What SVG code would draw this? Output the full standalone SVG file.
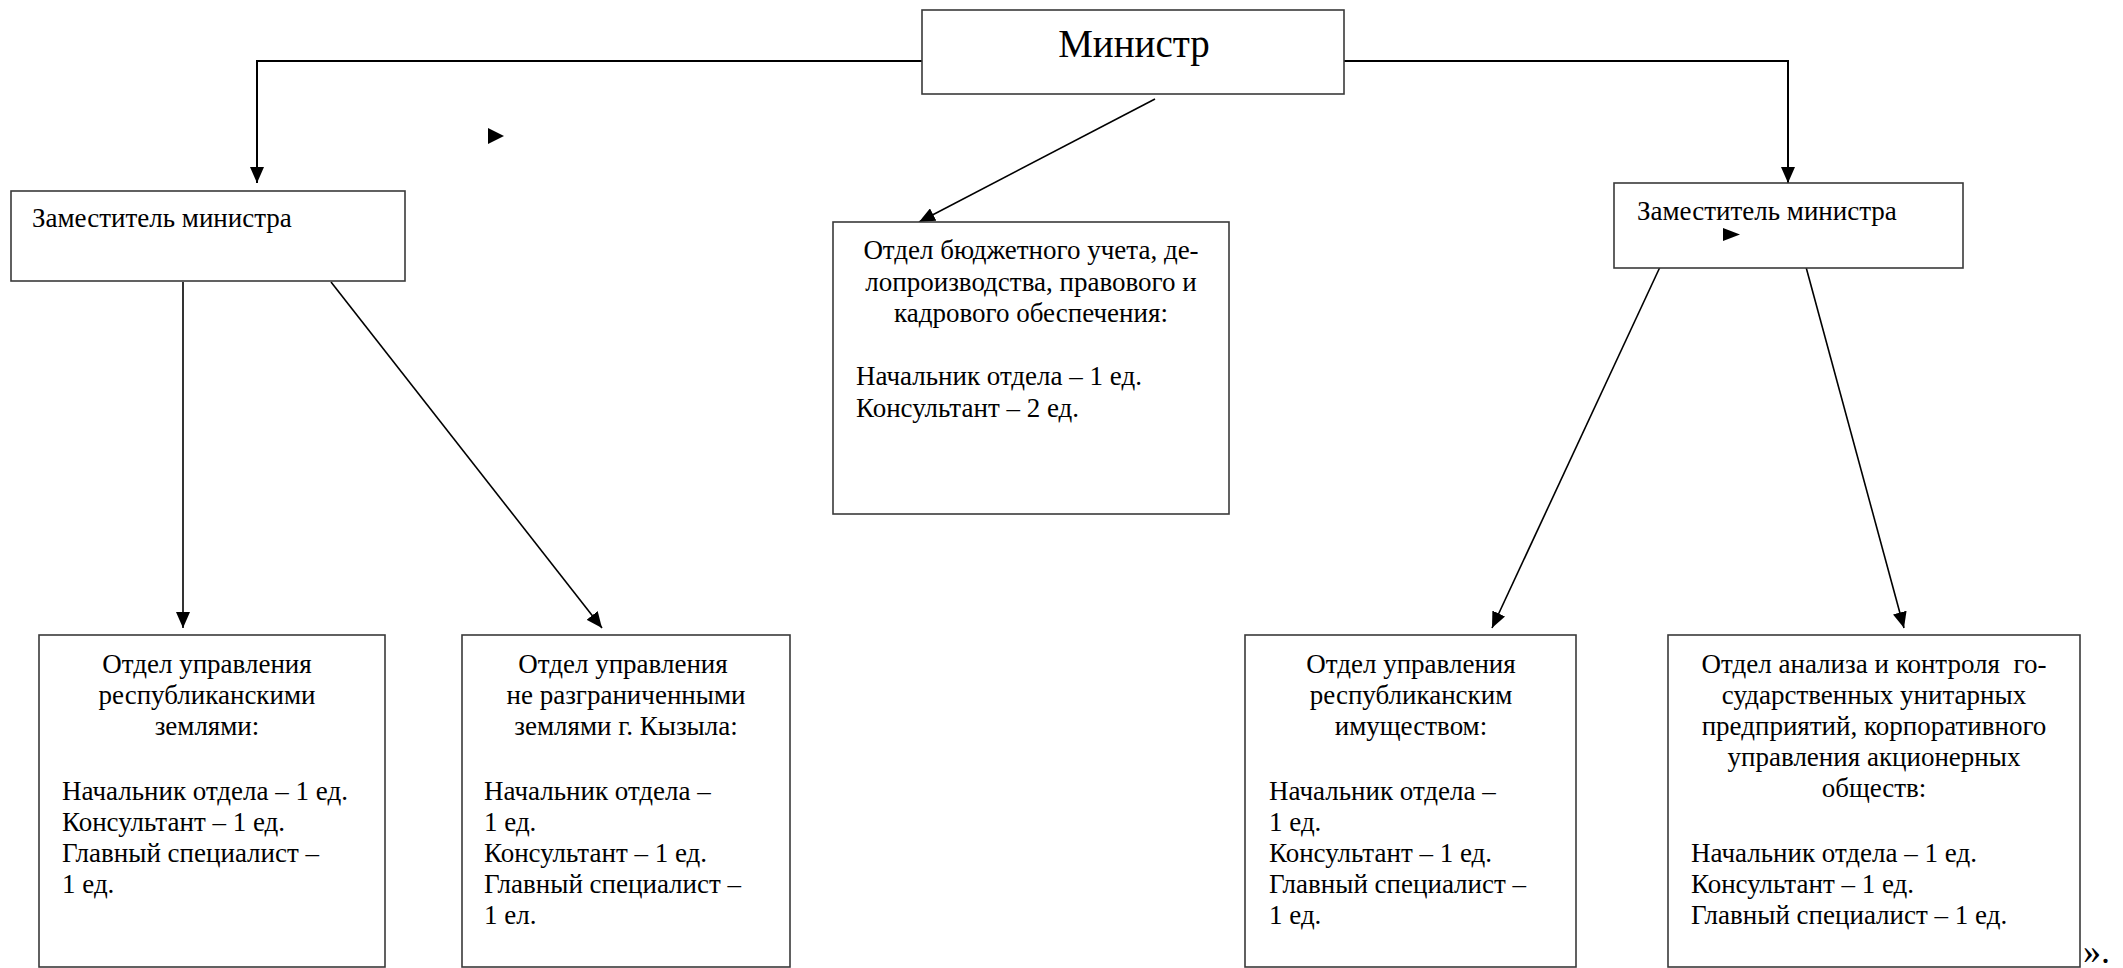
<svg xmlns="http://www.w3.org/2000/svg" width="2123" height="968" viewBox="0 0 2123 968">
<defs>
<style>
.box{fill:#fff;stroke:#3a3a3a;stroke-width:1.6}
.t{font-family:"Liberation Serif","Times New Roman",serif;font-size:27px;fill:#000}
.c{text-anchor:middle}
.ln{fill:none;stroke:#000;stroke-width:1.6}
</style>
<marker id="ah" viewBox="0 0 16 14" refX="16" refY="7" markerWidth="16" markerHeight="14" markerUnits="userSpaceOnUse" orient="auto">
<path d="M0,0 L16,7 L0,14 Z" fill="#000"/>
</marker>
</defs>
<rect width="2123" height="968" fill="#fff"/>
<g id="connectors">
<path class="ln" style="stroke-width:2" d="M923,61 H257 V183" marker-end="url(#ah)"/>
<path class="ln" style="stroke-width:2" d="M1344,61 H1788 V183" marker-end="url(#ah)"/>
<path class="ln" d="M1155,99 L919,222" marker-end="url(#ah)"/>
<path class="ln" d="M183,282 V628" marker-end="url(#ah)"/>
<path class="ln" d="M331,282 L602,628" marker-end="url(#ah)"/>
<path class="ln" d="M1660,267 L1492,628" marker-end="url(#ah)"/>
<path class="ln" d="M1806,267 L1904,628" marker-end="url(#ah)"/>
</g>
<g id="minister">
<rect class="box" x="922" y="10" width="422" height="84"/>
<text class="t c" x="1134" y="57" style="font-size:39px">Министр</text>
</g>
<g id="deputy-left">
<rect class="box" x="11" y="191" width="394" height="90"/>
<text class="t" x="32" y="227">Заместитель министра</text>
</g>
<g id="deputy-right">
<rect class="box" x="1614" y="183" width="349" height="85"/>
<text class="t" x="1637" y="220">Заместитель министра</text>
</g>
<g id="budget-dept">
<rect class="box" x="833" y="222" width="396" height="292"/>
<text class="t c" x="1031" y="259">Отдел бюджетного учета, де-</text>
<text class="t c" x="1031" y="291">лопроизводства, правового и</text>
<text class="t c" x="1031" y="322">кадрового обеспечения:</text>
<text class="t" x="856" y="385">Начальник отдела – 1 ед.</text>
<text class="t" x="856" y="417">Консультант – 2 ед.</text>
</g>
<g id="dept-rep-lands">
<rect class="box" x="39" y="635" width="346" height="332"/>
<text class="t c" x="207" y="673">Отдел управления</text>
<text class="t c" x="207" y="704">республиканскими</text>
<text class="t c" x="207" y="735">землями:</text>
<text class="t" x="62" y="800">Начальник отдела – 1 ед.</text>
<text class="t" x="62" y="831">Консультант – 1 ед.</text>
<text class="t" x="62" y="862">Главный специалист –</text>
<text class="t" x="62" y="893">1 ед.</text>
</g>
<g id="dept-kyzyl-lands">
<rect class="box" x="462" y="635" width="328" height="332"/>
<text class="t c" x="623" y="673">Отдел управления</text>
<text class="t c" x="626" y="704">не разграниченными</text>
<text class="t c" x="626" y="735">землями г. Кызыла:</text>
<text class="t" x="484" y="800">Начальник отдела –</text>
<text class="t" x="484" y="831">1 ед.</text>
<text class="t" x="484" y="862">Консультант – 1 ед.</text>
<text class="t" x="484" y="893">Главный специалист –</text>
<text class="t" x="484" y="924">1 ел.</text>
</g>
<g id="dept-rep-property">
<rect class="box" x="1245" y="635" width="331" height="332"/>
<text class="t c" x="1411" y="673">Отдел управления</text>
<text class="t c" x="1411" y="704">республиканским</text>
<text class="t c" x="1411" y="735">имуществом:</text>
<text class="t" x="1269" y="800">Начальник отдела –</text>
<text class="t" x="1269" y="831">1 ед.</text>
<text class="t" x="1269" y="862">Консультант – 1 ед.</text>
<text class="t" x="1269" y="893">Главный специалист –</text>
<text class="t" x="1269" y="924">1 ед.</text>
</g>
<g id="dept-analysis">
<rect class="box" x="1668" y="635" width="412" height="332"/>
<text class="t c" x="1874" y="673" xml:space="preserve">Отдел анализа и контроля  го-</text>
<text class="t c" x="1874" y="704">сударственных унитарных</text>
<text class="t c" x="1874" y="735">предприятий, корпоративного</text>
<text class="t c" x="1874" y="766">управления акционерных</text>
<text class="t c" x="1874" y="797">обществ:</text>
<text class="t" x="1691" y="862">Начальник отдела – 1 ед.</text>
<text class="t" x="1691" y="893">Консультант – 1 ед.</text>
<text class="t" x="1691" y="924">Главный специалист – 1 ед.</text>
</g>
<g id="stray-marks">
<path d="M488,128 L504,136 L488,144 Z" fill="#000"/>
<path d="M1723,228 L1740,234.5 L1723,241 Z" fill="#000"/>
</g>
<text class="t" x="2083" y="963" style="font-size:36px">».</text>
</svg>
